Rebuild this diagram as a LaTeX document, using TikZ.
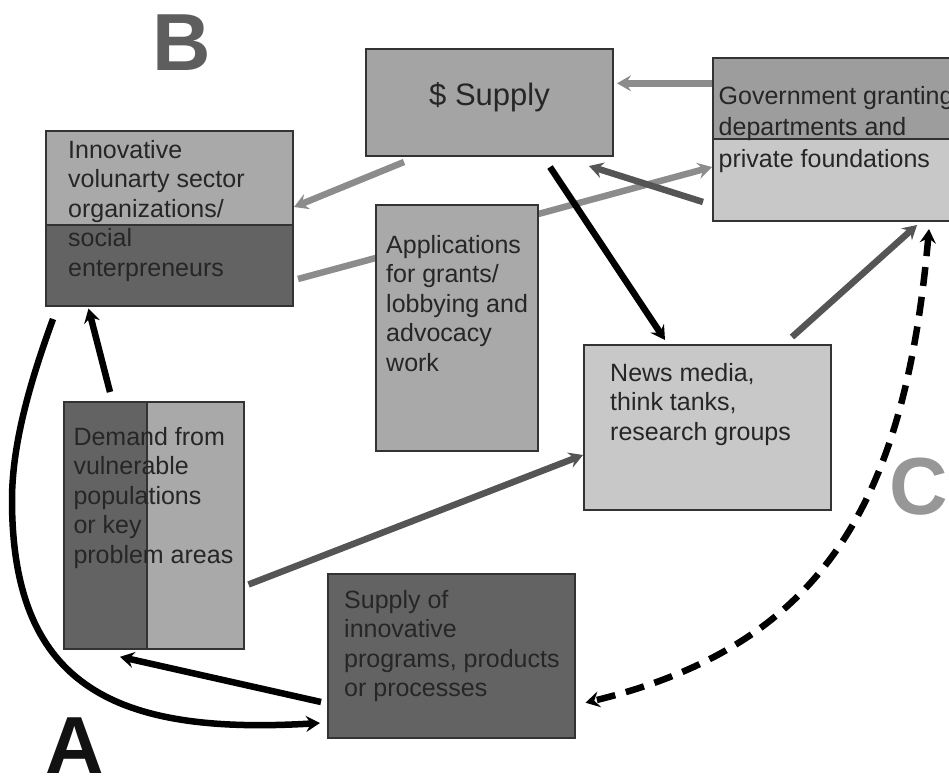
\documentclass[tikz,border=0pt]{standalone}
\usepackage{fontspec}
\setmainfont{Liberation Sans}
\usetikzlibrary{arrows.meta}
\pgfdeclarelayer{background}
\pgfsetlayers{background,main}

\definecolor{boxline}{HTML}{333333}
\definecolor{ink}{HTML}{262626}
\definecolor{lightfill}{HTML}{A9A9A9}
\definecolor{darkfill}{HTML}{636363}
\definecolor{supplyfill}{HTML}{A4A4A4}
\definecolor{govtop}{HTML}{9D9D9D}
\definecolor{paleful}{HTML}{C8C8C8}
\definecolor{arrgray}{HTML}{8C8C8C}
\definecolor{arrdark}{HTML}{555555}

\begin{document}
\begin{tikzpicture}[
  x=1pt, y=-1pt,
  panel/.style={draw=boxline,line width=2pt,anchor=north west,inner sep=0pt},
  txt/.style={anchor=north west,align=left,inner sep=0pt,text=ink,font=\fontsize{25}{29.5}\selectfont},
  bigletter/.style={anchor=base west,inner sep=0pt,text depth=0pt,font=\fontsize{81}{81}\selectfont\bfseries},
  arr/.style={-{Stealth[length=14pt,width=16pt,inset=5pt]},line width=6.5pt,line cap=butt},
  grayarr/.style={arr,arrgray},
  darkarr/.style={arr,arrdark},
  blackarr/.style={arr,black},
  dasharr/.style={{Stealth[length=14pt,width=16pt,inset=5pt]}-{Stealth[length=14pt,width=16pt,inset=5pt]},
    line width=6.5pt,black,dash pattern=on 19pt off 11pt}
]
\useasboundingbox (0,0) rectangle (949,779);
\clip (0,0) rectangle (949,779);

% boxes
\node[panel,fill=supplyfill,minimum width=247pt,minimum height=107pt,
  text=ink,font=\fontsize{31}{31}\selectfont,text depth=16pt] (supply) at (365,48) {\$ Supply};
\node[panel,fill=lightfill,minimum width=247pt,minimum height=175.5pt,
  path picture={\fill[darkfill] ([shift={(0,94.8)}]path picture bounding box.north west) rectangle (path picture bounding box.south east);
    \draw[boxline,line width=2pt] ([shift={(0,94.8)}]path picture bounding box.north west) -- ([shift={(0,94.8)}]path picture bounding box.north east);}]
  (innov) at (45,129.5) {};
\node[panel,fill=govtop,minimum width=260pt,minimum height=163pt,
  path picture={\fill[paleful] ([shift={(0,80.7)}]path picture bounding box.north west) rectangle (path picture bounding box.south east);
    \draw[boxline,line width=2pt] ([shift={(0,80.7)}]path picture bounding box.north west) -- ([shift={(0,80.7)}]path picture bounding box.north east);}]
  (gov) at (712,57) {};
\node[panel,fill=paleful,minimum width=247pt,minimum height=165pt] (news) at (583,344) {};
\node[panel,fill=darkfill,minimum width=180pt,minimum height=247pt,
  path picture={\fill[lightfill] ([shift={(83.2,0)}]path picture bounding box.north west) rectangle (path picture bounding box.south east);
    \draw[boxline,line width=2pt] ([shift={(83.2,0)}]path picture bounding box.north west) -- ([shift={(83.2,0)}]path picture bounding box.south west);}]
  (demand) at (62.5,400.5) {};
\node[panel,fill=darkfill,minimum width=247pt,minimum height=164pt] (prog) at (326.5,572.7) {};

% innovators -> government, passes behind the applications box
\begin{pgfonlayer}{background}
\draw[grayarr] ([shift={(4,-28)}]innov.south east) -- ([shift={(0,-55)}]gov.south west);
\end{pgfonlayer}
\node[panel,fill=lightfill,minimum width=162pt,minimum height=246pt] (apps) at (375,204) {};

% texts
\node[txt] (innovtxt) at (68,140) {Innovative\\volunarty sector\\organizations/\\social\\enterpreneurs};
\node[txt,font=\fontsize{25}{31.5}\selectfont] (govtxt) at (718.5,86) {Government granting\\departments and\\private foundations};
\node[txt] (appstxt) at (386,235) {Applications\\for grants/\\lobbying and\\advocacy\\work};
\node[txt] (newstxt) at (610,363) {News media,\\think tanks,\\research groups};
\node[txt] (demandtxt) at (73.3,427) {Demand from\\vulnerable\\populations\\or key\\problem areas};
\node[txt] (progtxt) at (344,590) {Supply of\\innovative\\programs, products\\or processes};

% big letters
\node[bigletter,text=arrdark!95!white] (lblB) at (152,70) {B};
\node[bigletter,text=black!93] (lblA) at (45,773) {A};
\node[bigletter,text=arrgray!90!white] (lblC) at (889,514) {C};

% connectors
\draw[grayarr] ([shift={(0,26.3)}]gov.north west) -- ([shift={(3,35.3)}]supply.north east);
\draw[grayarr] ([shift={(39,5)}]supply.south west) -- ([shift={(0,77.5)}]innov.north east);
\draw[darkarr] ([shift={(-9,-20)}]gov.south west) -- ([shift={(-25,9)}]supply.south east);
\draw[blackarr] ([shift={(185,10)}]supply.south west) -- ([shift={(82,-4)}]news.north west);
\draw[darkarr] ([shift={(-40,-7)}]news.north east) -- ([shift={(205,3)}]gov.south west);
\draw[darkarr] ([shift={(4,-65)}]demand.south east) -- ([shift={(0,111)}]news.north west);
\draw[blackarr] ([shift={(47.5,-8.5)}]demand.north west) -- ([shift={(43.5,1.5)}]innov.south west);
\draw[blackarr] ([shift={(-5.5,129.3)}]prog.north west) -- ([shift={(57.5,7.3)}]demand.south west);
\draw[blackarr] ([shift={(8,12)}]innov.south west) .. controls (33,374) and (12,440) .. (12,500)
  .. controls (12,690) and (120,735) .. ([shift={(-6.5,150.3)}]prog.north west);
\draw[dasharr] ([shift={(217,7)}]gov.south west) .. controls (905,500) and (825,645) .. ([shift={(10,130)}]prog.north east);
\end{tikzpicture}
\end{document}
